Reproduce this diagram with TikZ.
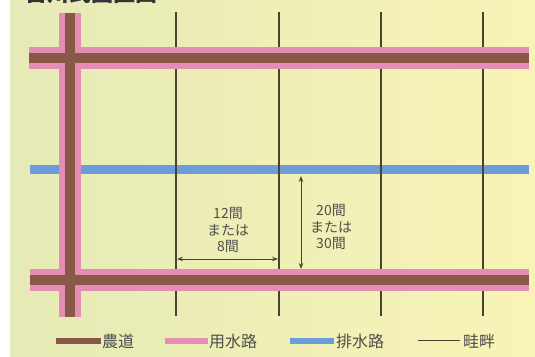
\documentclass[tikz,border=0pt]{standalone}
\usepackage{fontspec}
\usetikzlibrary{arrows.meta}
\newfontfamily\jp{Noto Sans CJK JP}
\definecolor{bgL}{HTML}{E6EAB6}
\definecolor{bgR}{HTML}{F8F4B6}
\definecolor{pinkc}{HTML}{E48DB5}
\definecolor{brownc}{HTML}{8A5848}
\definecolor{bluec}{HTML}{6C9DDA}
\definecolor{linec}{HTML}{4A4232}
\definecolor{txtc}{HTML}{4E4E4C}
\tikzset{
  canal/.style={pinkc, line width=22pt},
  road/.style={brownc, line width=10pt},
  drain/.style={bluec, line width=9pt},
  ridge/.style={linec, line width=1.1pt},
  dim/.style={linec, line width=1pt, {Stealth[length=6pt,width=4.5pt]}-{Stealth[length=6pt,width=4.5pt]}},
  lbl/.style={font=\jp\fontsize{14}{16.5}\selectfont, text=txtc, align=center, inner sep=0pt},
  leg/.style={font=\jp\fontsize{16}{18}\selectfont, text=txtc, anchor=west, inner sep=0pt},
}
\begin{document}
\begin{tikzpicture}[x=1pt,y=-1pt]
\useasboundingbox (0,0) rectangle (535,356);
\clip (0,0) rectangle (535,356);
\fill[white] (0,0) rectangle (535,356);
\shade[left color=bgL, right color=bgR] (10,0) rectangle (535,356);
% title (clipped at top, as in the reference)
\node[font=\jp\bfseries\fontsize{22}{22}\selectfont, text=black!80, anchor=south west, inner sep=0pt] (title) at (25,4.5) {古川式圃区画};
% coordinates
\coordinate (vT) at (69.5,13);
\coordinate (vB) at (69.5,317);
\coordinate (h1L) at (29,57.5);
\coordinate (h1R) at (529,57.5);
\coordinate (h2L) at (30,280);
\coordinate (h2R) at (529,280);
\coordinate (bL) at (30,169.5);
\coordinate (bR) at (529,169.5);
% drain
\draw[drain] (bL) -- (bR);
% ridges
\foreach \x [count=\i] in {176,279,381,483} {
  \coordinate (r\i T) at (\x,12);
  \coordinate (r\i B) at (\x,316);
  \draw[ridge] (r\i T) -- (r\i B);
}
% canals
\draw[canal] (h1L) -- (h1R);
\draw[canal] (h2L) -- (h2R);
\draw[canal] (vT) -- (vB);
% roads
\draw[road] (h1L) -- (h1R);
\draw[road] (h2L) -- (h2R);
\draw[road] (vT) -- (vB);
% dimension arrows
\coordinate (aL) at (177,259);
\coordinate (aR) at (278,259);
\draw[dim] (aL) -- (aR);
\coordinate (dT) at (301,176);
\coordinate (dB) at (301,269);
\draw[dim] (dT) -- (dB);
\node[lbl] (w) at (228,230) {12間\\または\\8間};
\node[lbl] (h) at (331,227) {20間\\または\\30間};
% legend
\coordinate (l1a) at (56,340.5); \coordinate (l1b) at (101,340.5);
\draw[brownc, line width=6pt] (l1a) -- (l1b);
\node[leg] (t1) at (102,341) {農道};
\coordinate (l2a) at (165,340.5); \coordinate (l2b) at (208,340.5);
\draw[pinkc, line width=6pt] (l2a) -- (l2b);
\node[leg] (t2) at (209,341) {用水路};
\coordinate (l3a) at (290,340.5); \coordinate (l3b) at (334,340.5);
\draw[bluec, line width=6pt] (l3a) -- (l3b);
\node[leg] (t3) at (336,341) {排水路};
\coordinate (l4a) at (418,340.5); \coordinate (l4b) at (460,340.5);
\draw[linec, line width=1pt] (l4a) -- (l4b);
\node[leg] (t4) at (463,341) {畦畔};
\end{tikzpicture}
\end{document}
